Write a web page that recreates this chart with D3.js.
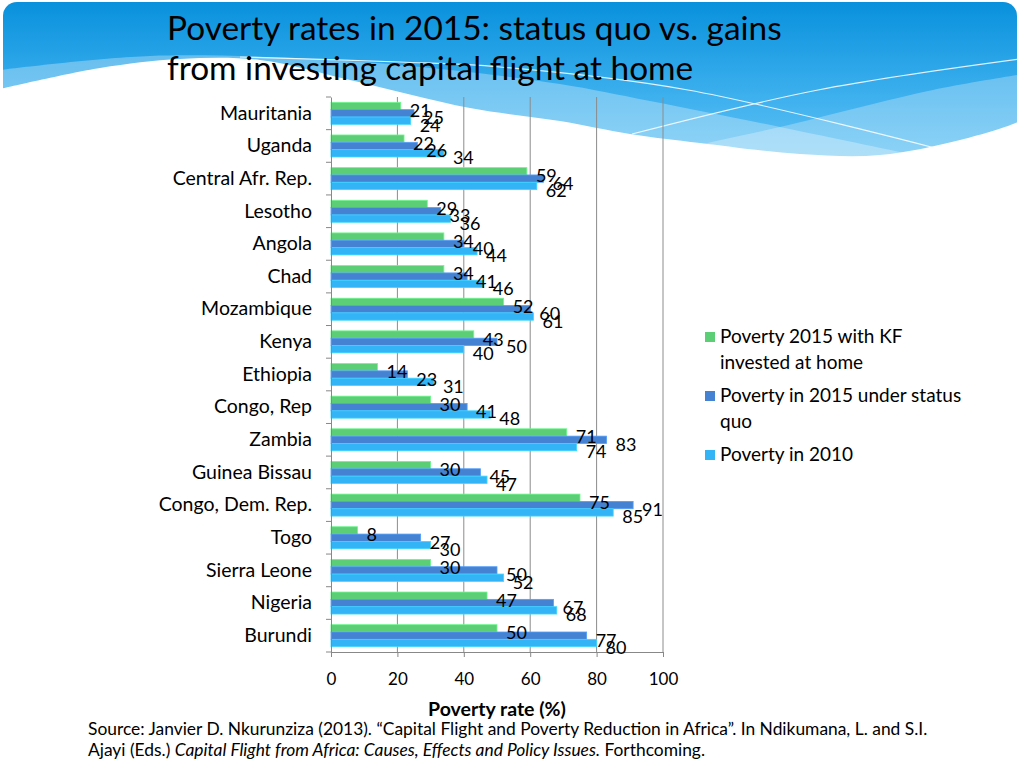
<!DOCTYPE html>
<html><head><meta charset="utf-8">
<script src="https://cdn.jsdelivr.net/npm/d3@7"></script>
<style>
html,body{margin:0;padding:0;background:#fff;}
svg{display:block;font-family:Lato,"Open Sans",sans-serif;}
</style></head>
<body>
<svg id="chart" width="1024" height="768"></svg>
<script>
const categories = ["Mauritania","Uganda","Central Afr. Rep.","Lesotho","Angola","Chad","Mozambique","Kenya","Ethiopia","Congo, Rep","Zambia","Guinea Bissau","Congo, Dem. Rep.","Togo","Sierra Leone","Nigeria","Burundi"];
const seriesNames = ["Poverty 2015 with KF invested at home","Poverty in 2015 under status quo","Poverty in 2010"];
const kfHome   = [21,22,59,29,34,34,52,43,14,30,71,30,75,8,30,47,50];
const statusQuo= [25,26,64,33,40,41,60,50,23,41,83,45,91,27,50,67,77];
const pov2010  = [24,34,62,36,44,46,61,40,31,48,74,47,85,30,52,68,80];
const xTicks = [0,20,40,60,80,100];
const colors = ["#5ccf76","#4583d2","#33b4f7"];
const titleLines = ["Poverty rates in 2015: status quo vs. gains","from investing capital flight at home"];
const legendLines = [["Poverty 2015 with KF","invested at home"],["Poverty in 2015 under status","quo"],["Poverty in 2010"]];

const svg = d3.select("#chart");
const defs = svg.append("defs");

// ---- header background ----
const grad = defs.append("linearGradient").attr("id","hdr").attr("gradientUnits","userSpaceOnUse")
  .attr("x1",0).attr("y1",0).attr("x2",0).attr("y2",160);
grad.append("stop").attr("offset","0%").attr("stop-color","#0790dc");
grad.append("stop").attr("offset","60%").attr("stop-color","#3db0ee");
grad.append("stop").attr("offset","100%").attr("stop-color","#62c2f4");
defs.append("clipPath").attr("id","hclip").append("rect")
  .attr("x",3).attr("y",2).attr("width",1014).attr("height",190).attr("rx",14);
const hg = svg.append("g").attr("clip-path","url(#hclip)");
hg.append("rect").attr("x",0).attr("y",0).attr("width",1024).attr("height",190).attr("fill","url(#hdr)");
const crv = d3.line().curve(d3.curveCatmullRom);
// descending translucent band
hg.append("path").attr("d", crv([[0,70],[150,56],[330,60],[450,70],[560,84],[650,101],[780,127],[1024,178]]) + "L1024,190L0,190Z")
  .attr("fill","#fff").attr("opacity",0.3);
// ascending translucent band
hg.append("path").attr("d", crv([[560,190],[680,150],[780,127],[933,90],[1024,74]]) + "L1024,190Z")
  .attr("fill","#fff").attr("opacity",0.28);
// thin white lines
hg.append("path").attr("d", crv([[240,57],[400,62],[500,67],[688,90],[935,148]]))
  .attr("fill","none").attr("stroke","#fff").attr("stroke-width",1.2).attr("opacity",0.85);
hg.append("path").attr("d", crv([[632,134],[818,90],[1020,59]]))
  .attr("fill","none").attr("stroke","#fff").attr("stroke-width",1.2).attr("opacity",0.85);
// white wave (slide body)
const wavePts = [[0,89],[100,68],[180,59],[260,60],[350,80],[470,108],[560,121],[630,134],[700,143],[800,154],[880,155],[960,140],[1018,122],[1024,118]];
svg.append("path").attr("d", crv(wavePts) + "L1024,768L0,768Z").attr("fill","#ffffff");

// ---- title ----
const title = svg.append("g");
titleLines.forEach((t,i)=>{
  title.append("text").attr("x",167).attr("y",40+i*40).attr("font-size",33.4).attr("fill","#000").text(t);
});

// ---- chart ----
const x = d3.scaleLinear().domain([0,100]).range([331,663]);
const y = d3.scaleBand().domain(categories).range([97,652]).paddingInner(0).paddingOuter(0);
const sub = d3.scaleBand().domain([0,1,2]).range([0,y.bandwidth()]).paddingInner(0).paddingOuter(0.725);
const series = [kfHome,statusQuo,pov2010];

// grid
svg.append("g").selectAll("line").data(xTicks.slice(1)).join("line")
  .attr("x1",d=>x(d)).attr("x2",d=>x(d)).attr("y1",97).attr("y2",652)
  .attr("stroke","#8c8c8c").attr("stroke-width",1);

// bars
const bars = svg.append("g");
series.forEach((vals,si)=>{
  bars.selectAll(null).data(vals).join("rect")
    .attr("x",x(0)).attr("y",(d,i)=>y(categories[i])+sub(si))
    .attr("width",d=>x(d)-x(0)).attr("height",sub.bandwidth())
    .attr("fill",colors[si]).attr("stroke",d3.color(colors[si]).brighter(0.5)).attr("stroke-width",0.8);
});

// axes
const xAxis = svg.append("g").attr("transform","translate(0,652)")
  .call(d3.axisBottom(x).tickValues(xTicks).tickSize(5).tickPadding(16).tickFormat(d3.format("d")));
xAxis.select(".domain").attr("stroke","#888");
xAxis.selectAll(".tick line").attr("stroke","#888");
xAxis.selectAll("text").attr("font-size",17).attr("font-family","Lato").attr("fill","#000");

const yAxis = svg.append("g").attr("transform","translate(331,0)")
  .call(d3.axisLeft(y).tickSize(0).tickPadding(19));
yAxis.select(".domain").attr("stroke","#888");
yAxis.selectAll("text").attr("font-size",19.5).attr("font-family","Lato").attr("fill","#000");
// band boundary ticks
svg.append("g").selectAll("line").data(d3.range(categories.length+1)).join("line")
  .attr("x1",326).attr("x2",331)
  .attr("y1",i=>97+i*y.step()).attr("y2",i=>97+i*y.step())
  .attr("stroke","#888");

// data labels
const labels = svg.append("g").attr("font-size",18).attr("fill","#000");
series.forEach((vals,si)=>{
  labels.selectAll(null).data(vals).join("text")
    .attr("x",d=>x(d)+9)
    .attr("y",(d,i)=>y(categories[i])+sub(si)+sub.bandwidth()/2+4)
    .attr("dominant-baseline","central")
    .text(d=>d);
});

// axis title
svg.append("text").attr("x",497).attr("y",716).attr("text-anchor","middle")
  .attr("font-size",19.5).attr("font-weight","bold").text("Poverty rate (%)");

// legend
const lg = svg.append("g");
let ly = 343;
legendLines.forEach((lines,si)=>{
  lg.append("rect").attr("x",705).attr("y",ly-11).attr("width",10).attr("height",10).attr("fill",colors[si]);
  lines.forEach((t,j)=>{
    lg.append("text").attr("x",720).attr("y",ly+j*26).attr("font-size",19).text(t);
  });
  ly += lines.length*26 + 7;
});

// source
const src = svg.append("g").attr("font-size",17.4).attr("fill","#000");
src.append("text").attr("x",88).attr("y",735)
  .text("Source: Janvier D. Nkurunziza (2013). \u201CCapital Flight and Poverty Reduction in Africa\u201D. In Ndikumana, L. and S.I.");
const s2 = src.append("text").attr("x",88).attr("y",756);
s2.append("tspan").text("Ajayi (Eds.) ");
s2.append("tspan").attr("font-style","italic").text("Capital Flight from Africa: Causes, Effects and Policy Issues.");
s2.append("tspan").text(" Forthcoming.");
</script>
</body></html>
